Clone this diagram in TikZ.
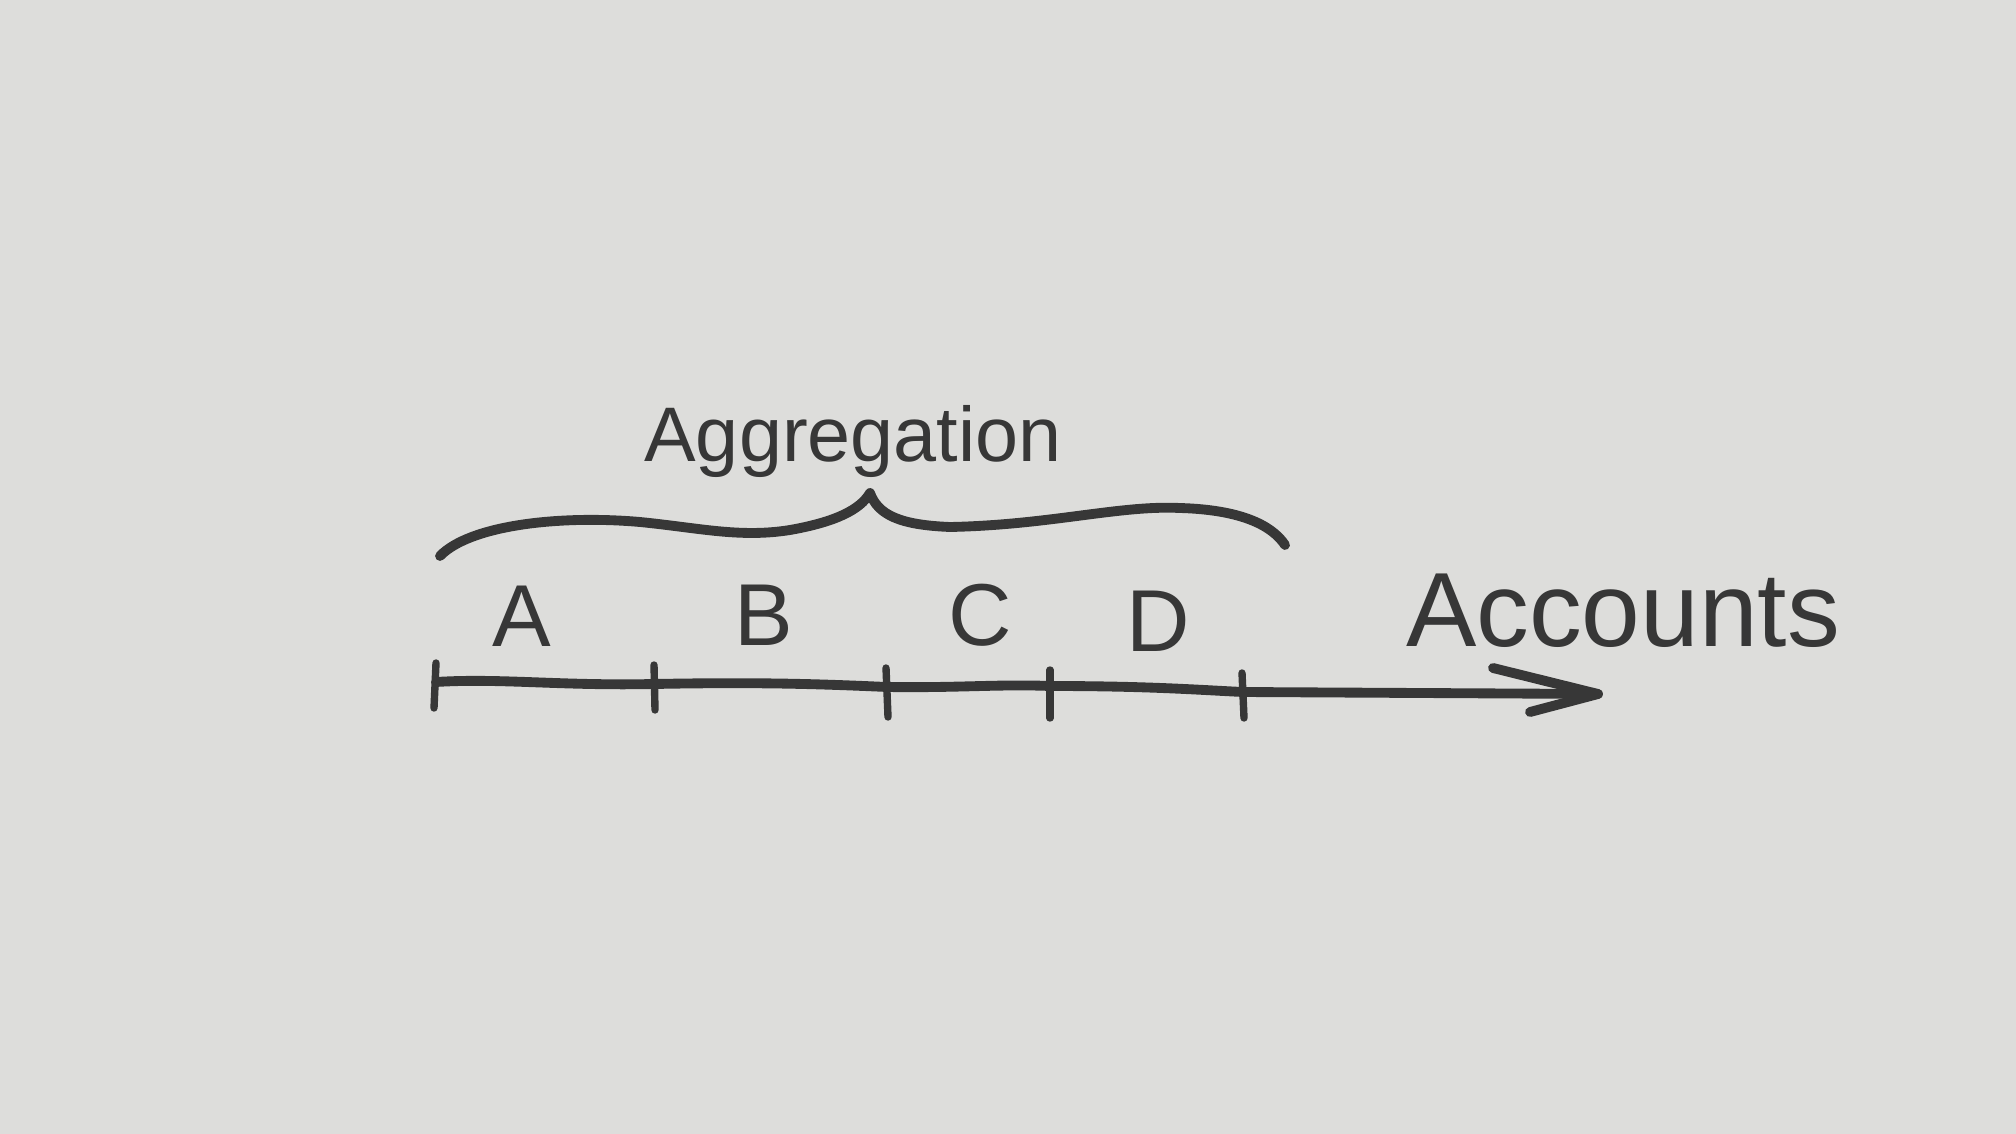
\documentclass[tikz,border=0pt]{standalone}
\usepackage{fontspec}
\setmainfont{Liberation Sans}
\definecolor{paper}{RGB}{221,221,219}
\definecolor{ink}{RGB}{55,55,55}
\tikzset{
  ink line/.style={draw=ink, line width=2.8pt, line cap=round, line join=round},
  tick mark/.style={draw=ink, line width=2.1pt, line cap=round},
  letter/.style={text=ink, font=\fontsize{25}{28}\selectfont, inner sep=0pt},
}
\begin{document}
\begin{tikzpicture}[x=0.01cm,y=-0.01cm]
\fill[paper] (0,0) rectangle (2016,1134);
\useasboundingbox (0,0) rectangle (2016,1134);
% axis
\coordinate (t0) at (436,682);
\coordinate (t1) at (654,684);
\coordinate (t2) at (887,687);
\coordinate (t3) at (1050,686);
\coordinate (t4) at (1243,692);
\coordinate (tip) at (1598,694);
\coordinate (ha) at (1493,668);
\coordinate (hb) at (1530,712);
\draw[ink line] (t0) .. controls (500,678) and (560,686) .. (t1)
  .. controls (760,682) and (820,684) .. (t2)
  .. controls (960,688) and (1000,684) .. (t3)
  .. controls (1150,686) and (1200,690) .. (t4) -- (tip);
\draw[ink line] (ha) -- (tip) -- (hb);
\draw[tick mark] (436,663) -- (434,708);
\draw[tick mark] (654,665) -- (655,710);
\draw[tick mark] (886,668) -- (888,717);
\draw[tick mark] (1050,670) -- (1050,718);
\draw[tick mark] (1242,673) -- (1244,718);
% labels
\node[letter] (A) at (522,616) {A};
\node[letter] (B) at (764,615) {B};
\node[letter] (C) at (980,615) {C};
\node[letter] (D) at (1158,621) {D};
\node[text=ink, font=\fontsize{30}{34}\selectfont, inner sep=0pt] (acc) at (1623,611) {Accounts};
% brace
\coordinate (bl) at (440,556);
\coordinate (bp) at (870,493);
\coordinate (br) at (1285,545);
\draw[ink line] (bl) .. controls (470,525) and (560,515) .. (640,522)
  .. controls (700,528) and (740,538) .. (790,530)
  .. controls (835,522) and (860,510) .. (bp)
  .. controls (878,515) and (900,525) .. (950,527)
  .. controls (1050,525) and (1120,505) .. (1180,508)
  .. controls (1250,510) and (1275,530) .. (br);
\node[text=ink, font=\fontsize{22}{26}\selectfont, inner sep=0pt] (agg) at (853,441) {Aggregation};
\end{tikzpicture}
\end{document}
